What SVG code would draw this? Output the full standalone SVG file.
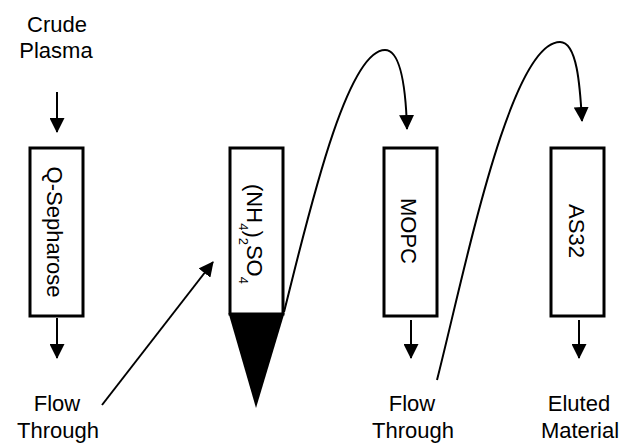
<svg xmlns="http://www.w3.org/2000/svg" width="629" height="443" viewBox="0 0 629 443">
<defs>
<style>
text{font-family:"Liberation Sans",Arial,sans-serif;font-size:22px;fill:#000;text-anchor:middle}
.box{fill:#fff;stroke:#000;stroke-width:3}
.conn{fill:none;stroke:#000;stroke-width:2;marker-end:url(#ah)}
.sub{font-size:13px}
</style>
<marker id="ah" markerUnits="userSpaceOnUse" markerWidth="15" markerHeight="15" viewBox="0 0 15 15" refX="14" refY="7.5" orient="auto">
<path d="M0,0 L15,7.5 L0,15 z" fill="#000"/>
</marker>
</defs>
<rect width="629" height="443" fill="#fff"/>
<g id="labels">
<text x="57" y="32">Crude</text>
<text x="56" y="58">Plasma</text>
<text x="57" y="411">Flow</text>
<text x="58" y="438">Through</text>
<text x="412" y="411">Flow</text>
<text x="413" y="438">Through</text>
<text x="579" y="411">Eluted</text>
<text x="580" y="438">Material</text>
</g>
<g id="q-sepharose">
<rect class="box" x="30" y="148" width="53" height="168"/>
<text transform="translate(47,232) rotate(90)">Q-Sepharose</text>
</g>
<g id="ammonium-sulfate">
<rect class="box" x="230" y="148" width="53" height="166"/>
<polygon points="228.5,313 284.5,313 256,408" fill="#000"/>
<text transform="translate(247,234) rotate(90)">(NH<tspan class="sub" dy="8">4</tspan><tspan dy="-8">)</tspan><tspan class="sub" dy="8">2</tspan><tspan dy="-8">SO</tspan><tspan class="sub" dy="8">4</tspan></text>
</g>
<g id="mopc">
<rect class="box" x="384" y="148" width="53" height="168"/>
<text transform="translate(401,231) rotate(90)">MOPC</text>
</g>
<g id="as32">
<rect class="box" x="551" y="148" width="53" height="168"/>
<text transform="translate(569,231) rotate(90)">AS32</text>
</g>
<g id="connectors">
<line class="conn" x1="57" y1="92" x2="57" y2="132"/>
<line class="conn" x1="57" y1="318" x2="57" y2="358"/>
<line class="conn" x1="411" y1="320" x2="411" y2="358"/>
<line class="conn" x1="579" y1="320" x2="579" y2="358"/>
<line class="conn" x1="102" y1="405" x2="213" y2="262"/>
<path class="conn" d="M284,312 C305,230 345,50 385,50 C402,50 406,95 407,129"/>
<path class="conn" d="M437,380 C465,270 510,42 560,42 C577,42 580,85 582,121"/>
</g>
</svg>
